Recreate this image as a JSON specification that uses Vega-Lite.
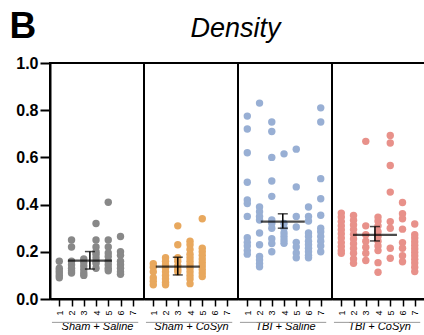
{
  "$schema": "https://vega.github.io/schema/vega-lite/v6.json",
  "background": "white",
  "padding": {"left": 8, "top": 6, "right": 0, "bottom": 0},
  "bounds": "flush",
  "spacing": 0,
  "title": {"text": "Density", "fontSize": 27, "fontStyle": "italic", "fontWeight": "normal", "font": "Liberation Sans", "anchor": "middle", "offset": -37, "dx": 18, "color": "black"},
  "data": {"values": [
    {"g":"Sham + Saline","c":1,"v":0.16},{"g":"Sham + Saline","c":1,"v":0.13},{"g":"Sham + Saline","c":1,"v":0.12},{"g":"Sham + Saline","c":1,"v":0.11},{"g":"Sham + Saline","c":1,"v":0.10},{"g":"Sham + Saline","c":1,"v":0.09},
    {"g":"Sham + Saline","c":2,"v":0.25},{"g":"Sham + Saline","c":2,"v":0.22},{"g":"Sham + Saline","c":2,"v":0.16},{"g":"Sham + Saline","c":2,"v":0.145},{"g":"Sham + Saline","c":2,"v":0.13},{"g":"Sham + Saline","c":2,"v":0.12},{"g":"Sham + Saline","c":2,"v":0.11},
    {"g":"Sham + Saline","c":3,"v":0.17},{"g":"Sham + Saline","c":3,"v":0.155},{"g":"Sham + Saline","c":3,"v":0.14},{"g":"Sham + Saline","c":3,"v":0.125},{"g":"Sham + Saline","c":3,"v":0.11},{"g":"Sham + Saline","c":3,"v":0.10},
    {"g":"Sham + Saline","c":4,"v":0.32},{"g":"Sham + Saline","c":4,"v":0.25},{"g":"Sham + Saline","c":4,"v":0.22},{"g":"Sham + Saline","c":4,"v":0.20},{"g":"Sham + Saline","c":4,"v":0.19},{"g":"Sham + Saline","c":4,"v":0.175},{"g":"Sham + Saline","c":4,"v":0.16},{"g":"Sham + Saline","c":4,"v":0.15},{"g":"Sham + Saline","c":4,"v":0.13},
    {"g":"Sham + Saline","c":5,"v":0.41},{"g":"Sham + Saline","c":5,"v":0.25},{"g":"Sham + Saline","c":5,"v":0.22},{"g":"Sham + Saline","c":5,"v":0.195},{"g":"Sham + Saline","c":5,"v":0.18},{"g":"Sham + Saline","c":5,"v":0.16},{"g":"Sham + Saline","c":5,"v":0.145},{"g":"Sham + Saline","c":5,"v":0.13},{"g":"Sham + Saline","c":5,"v":0.12},
    {"g":"Sham + Saline","c":6,"v":0.265},{"g":"Sham + Saline","c":6,"v":0.20},{"g":"Sham + Saline","c":6,"v":0.185},{"g":"Sham + Saline","c":6,"v":0.16},{"g":"Sham + Saline","c":6,"v":0.145},{"g":"Sham + Saline","c":6,"v":0.13},{"g":"Sham + Saline","c":6,"v":0.115},{"g":"Sham + Saline","c":6,"v":0.105},
    {"g":"Sham + CoSyn","c":1,"v":0.15},{"g":"Sham + CoSyn","c":1,"v":0.135},{"g":"Sham + CoSyn","c":1,"v":0.115},{"g":"Sham + CoSyn","c":1,"v":0.09},{"g":"Sham + CoSyn","c":1,"v":0.075},{"g":"Sham + CoSyn","c":1,"v":0.06},
    {"g":"Sham + CoSyn","c":2,"v":0.175},{"g":"Sham + CoSyn","c":2,"v":0.16},{"g":"Sham + CoSyn","c":2,"v":0.145},{"g":"Sham + CoSyn","c":2,"v":0.13},{"g":"Sham + CoSyn","c":2,"v":0.115},{"g":"Sham + CoSyn","c":2,"v":0.10},{"g":"Sham + CoSyn","c":2,"v":0.085},{"g":"Sham + CoSyn","c":2,"v":0.07},{"g":"Sham + CoSyn","c":2,"v":0.06},
    {"g":"Sham + CoSyn","c":3,"v":0.31},{"g":"Sham + CoSyn","c":3,"v":0.23},{"g":"Sham + CoSyn","c":3,"v":0.175},{"g":"Sham + CoSyn","c":3,"v":0.16},{"g":"Sham + CoSyn","c":3,"v":0.14},{"g":"Sham + CoSyn","c":3,"v":0.125},{"g":"Sham + CoSyn","c":3,"v":0.115},
    {"g":"Sham + CoSyn","c":4,"v":0.245},{"g":"Sham + CoSyn","c":4,"v":0.23},{"g":"Sham + CoSyn","c":4,"v":0.21},{"g":"Sham + CoSyn","c":4,"v":0.19},{"g":"Sham + CoSyn","c":4,"v":0.175},{"g":"Sham + CoSyn","c":4,"v":0.16},{"g":"Sham + CoSyn","c":4,"v":0.145},{"g":"Sham + CoSyn","c":4,"v":0.13},{"g":"Sham + CoSyn","c":4,"v":0.115},{"g":"Sham + CoSyn","c":4,"v":0.10},{"g":"Sham + CoSyn","c":4,"v":0.085},{"g":"Sham + CoSyn","c":4,"v":0.065},
    {"g":"Sham + CoSyn","c":5,"v":0.34},{"g":"Sham + CoSyn","c":5,"v":0.215},{"g":"Sham + CoSyn","c":5,"v":0.20},{"g":"Sham + CoSyn","c":5,"v":0.185},{"g":"Sham + CoSyn","c":5,"v":0.17},{"g":"Sham + CoSyn","c":5,"v":0.155},{"g":"Sham + CoSyn","c":5,"v":0.14},{"g":"Sham + CoSyn","c":5,"v":0.125},{"g":"Sham + CoSyn","c":5,"v":0.11},{"g":"Sham + CoSyn","c":5,"v":0.095},
    {"g":"TBI + Saline","c":1,"v":0.775},{"g":"TBI + Saline","c":1,"v":0.72},{"g":"TBI + Saline","c":1,"v":0.62},{"g":"TBI + Saline","c":1,"v":0.495},{"g":"TBI + Saline","c":1,"v":0.42},{"g":"TBI + Saline","c":1,"v":0.405},{"g":"TBI + Saline","c":1,"v":0.35},{"g":"TBI + Saline","c":1,"v":0.26},{"g":"TBI + Saline","c":1,"v":0.24},{"g":"TBI + Saline","c":1,"v":0.225},{"g":"TBI + Saline","c":1,"v":0.205},{"g":"TBI + Saline","c":1,"v":0.19},
    {"g":"TBI + Saline","c":2,"v":0.83},{"g":"TBI + Saline","c":2,"v":0.39},{"g":"TBI + Saline","c":2,"v":0.37},{"g":"TBI + Saline","c":2,"v":0.35},{"g":"TBI + Saline","c":2,"v":0.335},{"g":"TBI + Saline","c":2,"v":0.28},{"g":"TBI + Saline","c":2,"v":0.23},{"g":"TBI + Saline","c":2,"v":0.18},{"g":"TBI + Saline","c":2,"v":0.165},{"g":"TBI + Saline","c":2,"v":0.15},{"g":"TBI + Saline","c":2,"v":0.137},
    {"g":"TBI + Saline","c":3,"v":0.75},{"g":"TBI + Saline","c":3,"v":0.71},{"g":"TBI + Saline","c":3,"v":0.60},{"g":"TBI + Saline","c":3,"v":0.50},{"g":"TBI + Saline","c":3,"v":0.435},{"g":"TBI + Saline","c":3,"v":0.335},{"g":"TBI + Saline","c":3,"v":0.32},{"g":"TBI + Saline","c":3,"v":0.30},{"g":"TBI + Saline","c":3,"v":0.255},{"g":"TBI + Saline","c":3,"v":0.235},{"g":"TBI + Saline","c":3,"v":0.20},
    {"g":"TBI + Saline","c":4,"v":0.615},{"g":"TBI + Saline","c":4,"v":0.32},{"g":"TBI + Saline","c":4,"v":0.30},{"g":"TBI + Saline","c":4,"v":0.28},{"g":"TBI + Saline","c":4,"v":0.265},{"g":"TBI + Saline","c":4,"v":0.25},{"g":"TBI + Saline","c":4,"v":0.236},
    {"g":"TBI + Saline","c":5,"v":0.635},{"g":"TBI + Saline","c":5,"v":0.475},{"g":"TBI + Saline","c":5,"v":0.35},{"g":"TBI + Saline","c":5,"v":0.305},{"g":"TBI + Saline","c":5,"v":0.24},{"g":"TBI + Saline","c":5,"v":0.22},{"g":"TBI + Saline","c":5,"v":0.195},{"g":"TBI + Saline","c":5,"v":0.175},
    {"g":"TBI + Saline","c":6,"v":0.39},{"g":"TBI + Saline","c":6,"v":0.35},{"g":"TBI + Saline","c":6,"v":0.33},{"g":"TBI + Saline","c":6,"v":0.28},{"g":"TBI + Saline","c":6,"v":0.265},{"g":"TBI + Saline","c":6,"v":0.245},{"g":"TBI + Saline","c":6,"v":0.23},{"g":"TBI + Saline","c":6,"v":0.215},{"g":"TBI + Saline","c":6,"v":0.20},{"g":"TBI + Saline","c":6,"v":0.185},{"g":"TBI + Saline","c":6,"v":0.175},
    {"g":"TBI + Saline","c":7,"v":0.81},{"g":"TBI + Saline","c":7,"v":0.75},{"g":"TBI + Saline","c":7,"v":0.51},{"g":"TBI + Saline","c":7,"v":0.425},{"g":"TBI + Saline","c":7,"v":0.355},{"g":"TBI + Saline","c":7,"v":0.30},{"g":"TBI + Saline","c":7,"v":0.285},{"g":"TBI + Saline","c":7,"v":0.265},{"g":"TBI + Saline","c":7,"v":0.245},{"g":"TBI + Saline","c":7,"v":0.225},{"g":"TBI + Saline","c":7,"v":0.20},
    {"g":"TBI + CoSyn","c":1,"v":0.364},{"g":"TBI + CoSyn","c":1,"v":0.347},{"g":"TBI + CoSyn","c":1,"v":0.328},{"g":"TBI + CoSyn","c":1,"v":0.31},{"g":"TBI + CoSyn","c":1,"v":0.293},{"g":"TBI + CoSyn","c":1,"v":0.276},{"g":"TBI + CoSyn","c":1,"v":0.258},{"g":"TBI + CoSyn","c":1,"v":0.239},{"g":"TBI + CoSyn","c":1,"v":0.222},{"g":"TBI + CoSyn","c":1,"v":0.205},{"g":"TBI + CoSyn","c":1,"v":0.194},
    {"g":"TBI + CoSyn","c":2,"v":0.354},{"g":"TBI + CoSyn","c":2,"v":0.334},{"g":"TBI + CoSyn","c":2,"v":0.314},{"g":"TBI + CoSyn","c":2,"v":0.294},{"g":"TBI + CoSyn","c":2,"v":0.274},{"g":"TBI + CoSyn","c":2,"v":0.254},{"g":"TBI + CoSyn","c":2,"v":0.234},{"g":"TBI + CoSyn","c":2,"v":0.214},{"g":"TBI + CoSyn","c":2,"v":0.194},{"g":"TBI + CoSyn","c":2,"v":0.17},{"g":"TBI + CoSyn","c":2,"v":0.151},
    {"g":"TBI + CoSyn","c":3,"v":0.668},{"g":"TBI + CoSyn","c":3,"v":0.31},{"g":"TBI + CoSyn","c":3,"v":0.272},{"g":"TBI + CoSyn","c":3,"v":0.245},{"g":"TBI + CoSyn","c":3,"v":0.219},{"g":"TBI + CoSyn","c":3,"v":0.194},{"g":"TBI + CoSyn","c":3,"v":0.163},
    {"g":"TBI + CoSyn","c":4,"v":0.347},{"g":"TBI + CoSyn","c":4,"v":0.33},{"g":"TBI + CoSyn","c":4,"v":0.31},{"g":"TBI + CoSyn","c":4,"v":0.285},{"g":"TBI + CoSyn","c":4,"v":0.265},{"g":"TBI + CoSyn","c":4,"v":0.245},{"g":"TBI + CoSyn","c":4,"v":0.225},{"g":"TBI + CoSyn","c":4,"v":0.205},{"g":"TBI + CoSyn","c":4,"v":0.154},{"g":"TBI + CoSyn","c":4,"v":0.113},
    {"g":"TBI + CoSyn","c":5,"v":0.693},{"g":"TBI + CoSyn","c":5,"v":0.661},{"g":"TBI + CoSyn","c":5,"v":0.566},{"g":"TBI + CoSyn","c":5,"v":0.453},{"g":"TBI + CoSyn","c":5,"v":0.328},{"g":"TBI + CoSyn","c":5,"v":0.30},{"g":"TBI + CoSyn","c":5,"v":0.215},{"g":"TBI + CoSyn","c":5,"v":0.173},
    {"g":"TBI + CoSyn","c":6,"v":0.409},{"g":"TBI + CoSyn","c":6,"v":0.361},{"g":"TBI + CoSyn","c":6,"v":0.34},{"g":"TBI + CoSyn","c":6,"v":0.296},{"g":"TBI + CoSyn","c":6,"v":0.239},{"g":"TBI + CoSyn","c":6,"v":0.215},{"g":"TBI + CoSyn","c":6,"v":0.183},{"g":"TBI + CoSyn","c":6,"v":0.158},
    {"g":"TBI + CoSyn","c":7,"v":0.318},{"g":"TBI + CoSyn","c":7,"v":0.272},{"g":"TBI + CoSyn","c":7,"v":0.258},{"g":"TBI + CoSyn","c":7,"v":0.243},{"g":"TBI + CoSyn","c":7,"v":0.228},{"g":"TBI + CoSyn","c":7,"v":0.213},{"g":"TBI + CoSyn","c":7,"v":0.198},{"g":"TBI + CoSyn","c":7,"v":0.183},{"g":"TBI + CoSyn","c":7,"v":0.168},{"g":"TBI + CoSyn","c":7,"v":0.153},{"g":"TBI + CoSyn","c":7,"v":0.135},{"g":"TBI + CoSyn","c":7,"v":0.116},
    {"g":"Sham + Saline","xc":3.5,"mean":0.163,"lo":0.127,"hi":0.201},
    {"g":"Sham + CoSyn","xc":3.0,"mean":0.137,"lo":0.102,"hi":0.177},
    {"g":"TBI + Saline","xc":3.9,"mean":0.328,"lo":0.30,"hi":0.361},
    {"g":"TBI + CoSyn","xc":3.75,"mean":0.272,"lo":0.246,"hi":0.307}
  ]},
  "hconcat": [
    {
      "width": 94, "height": 236,
      "transform": [{"filter": "datum.g === 'Sham + Saline'"}],
      "layer": [
        {"transform": [{"filter": {"field": "v", "valid": true}}],
         "mark": {"type": "circle", "size": 55, "opacity": 1, "color": "#888888"},
         "encoding": {
           "x": {"field": "c", "type": "quantitative", "scale": {"domain": [0.24, 7.92], "nice": false, "zero": false}, "axis": {"values": [1, 2, 3, 4, 5, 6, 7], "tickCount": 7, "title": "Sham + Saline"}},
           "y": {"field": "v", "type": "quantitative", "scale": {"domain": [0, 1], "nice": false},
             "axis": {"values": [0, 0.2, 0.4, 0.6, 0.8, 1.0], "tickCount": 6, "format": ".1f", "title": "B", "titleAngle": 0, "titleFontSize": 37, "titleFontWeight": "bold", "titleFontStyle": "normal", "titleFont": "Liberation Sans", "titleColor": "black", "titleX": -41, "titleY": -26, "titleAlign": "left", "titleBaseline": "alphabetic", "titlePadding": 0,
               "labelFontSize": 16, "labelFontWeight": "bold", "labelFont": "Liberation Sans", "labelColor": "black", "tickSize": 10, "tickWidth": 2, "tickColor": "black", "domainWidth": 2, "domainColor": "black", "grid": false, "labelPadding": 2, "labelAngle": 0}}}},
        {"transform": [{"filter": {"field": "mean", "valid": true}}], "mark": {"type": "rule", "color": "black", "strokeWidth": 1.5},
         "encoding": {"x": {"field": "xc", "type": "quantitative"}, "y": {"field": "lo", "type": "quantitative"}, "y2": {"field": "hi"}}},
        {"transform": [{"filter": {"field": "mean", "valid": true}}], "mark": {"type": "tick", "orient": "horizontal", "color": "black", "size": 10, "thickness": 1.5},
         "encoding": {"x": {"field": "xc", "type": "quantitative"}, "y": {"field": "lo", "type": "quantitative"}}},
        {"transform": [{"filter": {"field": "mean", "valid": true}}], "mark": {"type": "tick", "orient": "horizontal", "color": "black", "size": 10, "thickness": 1.5},
         "encoding": {"x": {"field": "xc", "type": "quantitative"}, "y": {"field": "hi", "type": "quantitative"}}},
        {"transform": [{"filter": {"field": "mean", "valid": true}}], "mark": {"type": "tick", "orient": "horizontal", "color": "black", "size": 44, "thickness": 2.2},
         "encoding": {"x": {"field": "xc", "type": "quantitative"}, "y": {"field": "mean", "type": "quantitative"}}},
        {"transform": [{"filter": {"field": "mean", "valid": true}}], "mark": {"type": "rule", "color": "#999999", "strokeWidth": 1},
         "encoding": {"x": {"datum": 0.4}, "x2": {"datum": 7.45}, "y": {"datum": -0.099}}}
      ]
    },
    {
      "width": 94, "height": 236,
      "transform": [{"filter": "datum.g === 'Sham + CoSyn'"}],
      "layer": [
        {"transform": [{"filter": {"field": "v", "valid": true}}],
         "mark": {"type": "circle", "size": 55, "opacity": 1, "color": "#E8A85E"},
         "encoding": {
           "x": {"field": "c", "type": "quantitative", "scale": {"domain": [0.24, 7.92], "nice": false, "zero": false}, "axis": {"values": [1, 2, 3, 4, 5, 6, 7], "tickCount": 7, "title": "Sham + CoSyn"}},
           "y": {"field": "v", "type": "quantitative", "scale": {"domain": [0, 1], "nice": false}, "axis": null}}},
        {"transform": [{"filter": {"field": "mean", "valid": true}}], "mark": {"type": "rule", "color": "black", "strokeWidth": 1.5},
         "encoding": {"x": {"field": "xc", "type": "quantitative"}, "y": {"field": "lo", "type": "quantitative"}, "y2": {"field": "hi"}}},
        {"transform": [{"filter": {"field": "mean", "valid": true}}], "mark": {"type": "tick", "orient": "horizontal", "color": "black", "size": 10, "thickness": 1.5},
         "encoding": {"x": {"field": "xc", "type": "quantitative"}, "y": {"field": "lo", "type": "quantitative"}}},
        {"transform": [{"filter": {"field": "mean", "valid": true}}], "mark": {"type": "tick", "orient": "horizontal", "color": "black", "size": 10, "thickness": 1.5},
         "encoding": {"x": {"field": "xc", "type": "quantitative"}, "y": {"field": "hi", "type": "quantitative"}}},
        {"transform": [{"filter": {"field": "mean", "valid": true}}], "mark": {"type": "tick", "orient": "horizontal", "color": "black", "size": 44, "thickness": 2.2},
         "encoding": {"x": {"field": "xc", "type": "quantitative"}, "y": {"field": "mean", "type": "quantitative"}}},
        {"transform": [{"filter": {"field": "mean", "valid": true}}], "mark": {"type": "rule", "color": "#999999", "strokeWidth": 1},
         "encoding": {"x": {"datum": 0.4}, "x2": {"datum": 7.45}, "y": {"datum": -0.099}}}
      ]
    },
    {
      "width": 94, "height": 236,
      "transform": [{"filter": "datum.g === 'TBI + Saline'"}],
      "layer": [
        {"transform": [{"filter": {"field": "v", "valid": true}}],
         "mark": {"type": "circle", "size": 55, "opacity": 1, "color": "#98AFD4"},
         "encoding": {
           "x": {"field": "c", "type": "quantitative", "scale": {"domain": [0.24, 7.92], "nice": false, "zero": false}, "axis": {"values": [1, 2, 3, 4, 5, 6, 7], "tickCount": 7, "title": "TBI + Saline"}},
           "y": {"field": "v", "type": "quantitative", "scale": {"domain": [0, 1], "nice": false}, "axis": null}}},
        {"transform": [{"filter": {"field": "mean", "valid": true}}], "mark": {"type": "rule", "color": "black", "strokeWidth": 1.5},
         "encoding": {"x": {"field": "xc", "type": "quantitative"}, "y": {"field": "lo", "type": "quantitative"}, "y2": {"field": "hi"}}},
        {"transform": [{"filter": {"field": "mean", "valid": true}}], "mark": {"type": "tick", "orient": "horizontal", "color": "black", "size": 10, "thickness": 1.5},
         "encoding": {"x": {"field": "xc", "type": "quantitative"}, "y": {"field": "lo", "type": "quantitative"}}},
        {"transform": [{"filter": {"field": "mean", "valid": true}}], "mark": {"type": "tick", "orient": "horizontal", "color": "black", "size": 10, "thickness": 1.5},
         "encoding": {"x": {"field": "xc", "type": "quantitative"}, "y": {"field": "hi", "type": "quantitative"}}},
        {"transform": [{"filter": {"field": "mean", "valid": true}}], "mark": {"type": "tick", "orient": "horizontal", "color": "black", "size": 44, "thickness": 2.2},
         "encoding": {"x": {"field": "xc", "type": "quantitative"}, "y": {"field": "mean", "type": "quantitative"}}},
        {"transform": [{"filter": {"field": "mean", "valid": true}}], "mark": {"type": "rule", "color": "#999999", "strokeWidth": 1},
         "encoding": {"x": {"datum": 0.4}, "x2": {"datum": 7.45}, "y": {"datum": -0.099}}}
      ]
    },
    {
      "width": 94, "height": 236,
      "transform": [{"filter": "datum.g === 'TBI + CoSyn'"}],
      "layer": [
        {"transform": [{"filter": {"field": "v", "valid": true}}],
         "mark": {"type": "circle", "size": 55, "opacity": 1, "color": "#E8918A"},
         "encoding": {
           "x": {"field": "c", "type": "quantitative", "scale": {"domain": [0.24, 7.92], "nice": false, "zero": false}, "axis": {"values": [1, 2, 3, 4, 5, 6, 7], "tickCount": 7, "title": "TBI + CoSyn"}},
           "y": {"field": "v", "type": "quantitative", "scale": {"domain": [0, 1], "nice": false}, "axis": null}}},
        {"transform": [{"filter": {"field": "mean", "valid": true}}], "mark": {"type": "rule", "color": "black", "strokeWidth": 1.5},
         "encoding": {"x": {"field": "xc", "type": "quantitative"}, "y": {"field": "lo", "type": "quantitative"}, "y2": {"field": "hi"}}},
        {"transform": [{"filter": {"field": "mean", "valid": true}}], "mark": {"type": "tick", "orient": "horizontal", "color": "black", "size": 10, "thickness": 1.5},
         "encoding": {"x": {"field": "xc", "type": "quantitative"}, "y": {"field": "lo", "type": "quantitative"}}},
        {"transform": [{"filter": {"field": "mean", "valid": true}}], "mark": {"type": "tick", "orient": "horizontal", "color": "black", "size": 10, "thickness": 1.5},
         "encoding": {"x": {"field": "xc", "type": "quantitative"}, "y": {"field": "hi", "type": "quantitative"}}},
        {"transform": [{"filter": {"field": "mean", "valid": true}}], "mark": {"type": "tick", "orient": "horizontal", "color": "black", "size": 44, "thickness": 2.2},
         "encoding": {"x": {"field": "xc", "type": "quantitative"}, "y": {"field": "mean", "type": "quantitative"}}},
        {"transform": [{"filter": {"field": "mean", "valid": true}}], "mark": {"type": "rule", "color": "#999999", "strokeWidth": 1},
         "encoding": {"x": {"datum": 0.4}, "x2": {"datum": 7.45}, "y": {"datum": -0.099}}}
      ]
    }
  ],
  "config": {
    "view": {"stroke": "black", "strokeWidth": 2},
    "font": "Liberation Sans",
    "axisX": {"labelAngle": 270, "labelOverlap": false, "labelFlush": false, "labelFontSize": 9, "labelFont": "Liberation Sans", "labelColor": "black", "tickSize": 7, "tickWidth": 1.5, "tickColor": "black", "domainWidth": 2, "domainColor": "black", "grid": false, "labelPadding": 4,
      "titleFontStyle": "italic", "titleFontWeight": "normal", "titleFontSize": 11, "titleFont": "Liberation Sans", "titleColor": "black", "titlePadding": 5}
  }
}
